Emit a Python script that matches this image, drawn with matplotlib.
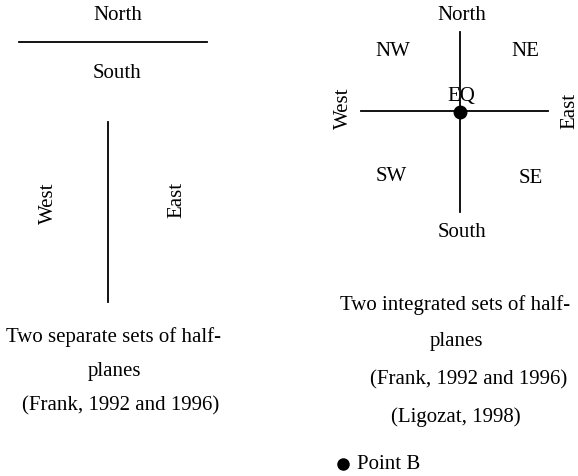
import matplotlib
matplotlib.use("Agg")
import matplotlib.pyplot as plt

# Labels
left_labels = ["North", "South", "West", "East"]
left_caption = ["Two separate sets of half-", "planes", "(Frank, 1992 and 1996)"]
right_labels = ["North", "South", "West", "East", "NW", "NE", "SW", "SE", "EQ"]
right_caption = ["Two integrated sets of half-", "planes", "(Frank, 1992 and 1996)", "(Ligozat, 1998)"]
legend_label = "Point B"

# Layout (pixel coordinates)
left_pos = [(118, 16, 0), (117, 74, 0), (48, 203, 90), (177, 200, 90)]
left_cap_pos = [(113, 337), (114, 372), (121, 406)]
right_pos = [(462, 15, 0), (462, 233, 0), (343, 108, 90), (570, 111, 90),
             (393, 52, 0), (525, 52, 0), (391, 177, 0), (531, 179, 0), (461, 97, 0)]
right_cap_pos = [(455, 305), (456, 342), (469, 380), (456, 417)]

W, H = 578, 477
fig = plt.figure(figsize=(W / 100, H / 100), dpi=100)
ax = fig.add_axes([0, 0, 1, 1])
ax.set_xlim(0, W)
ax.set_ylim(H, 0)
ax.axis("off")

font = dict(family="Liberation Serif", fontsize=15, color="black", ha="center", va="center")

# Left diagram
ax.plot([19, 207], [43, 43], color="black", lw=1.3)
ax.plot([108, 108], [123, 303], color="black", lw=1.3)
for lab, (x, y, r) in zip(left_labels, left_pos):
    ax.text(x, y, lab, rotation=r, **font)
for lab, (x, y) in zip(left_caption, left_cap_pos):
    ax.text(x, y, lab, **font)

# Right diagram
ax.plot([460, 460], [33, 213], color="black", lw=1.3)
ax.plot([361, 548], [112, 112], color="black", lw=1.3)
ax.plot([460], [113], "o", color="black", ms=9)
for lab, (x, y, r) in zip(right_labels, right_pos):
    ax.text(x, y, lab, rotation=r, **font)
for lab, (x, y) in zip(right_caption, right_cap_pos):
    ax.text(x, y, lab, **font)

# Legend
ax.plot([343], [465], "o", color="black", ms=8)
ax.text(357, 465, legend_label, **{**font, "ha": "left"})

fig.savefig("out.png", dpi=100)
